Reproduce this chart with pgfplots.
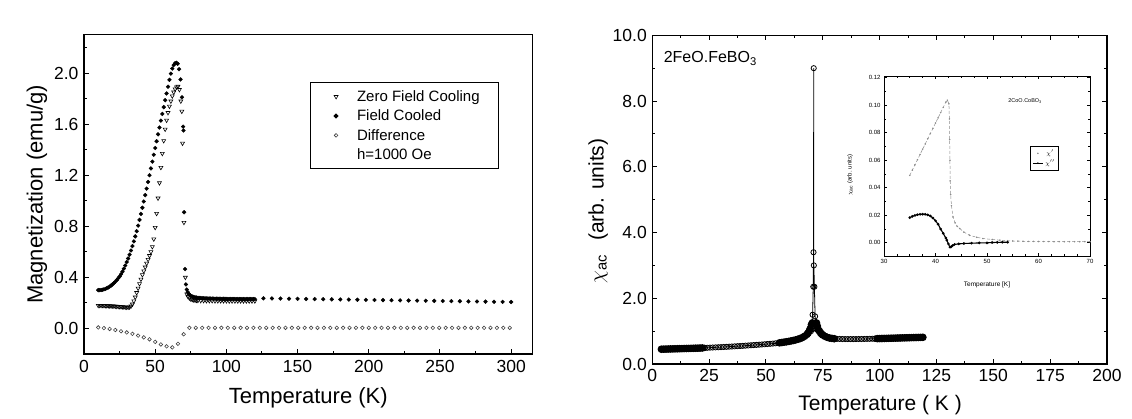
\documentclass[border=0pt]{standalone}
\usepackage{fontspec}
\setmainfont{Liberation Sans}
\usepackage{pgfplots}
\usepackage{pgfplotstable}
\pgfplotsset{compat=1.18}

% ---------- 2FeO.FeBO3 magnetisation, h = 1000 Oe ----------
\pgfplotstableread{
T M
10 0.180
11 0.180
12 0.180
13 0.180
14 0.179
15 0.178
16 0.178
17 0.177
18 0.177
19 0.176
20 0.176
21 0.175
22 0.174
23 0.173
24 0.172
25 0.171
26 0.170
27 0.169
28 0.168
29 0.167
30 0.166
31 0.166
32 0.168
33 0.175
34 0.190
35 0.215
36 0.245
37 0.280
38 0.315
39 0.350
40 0.385
41 0.420
42 0.450
43 0.480
44 0.510
45 0.540
46 0.570
47 0.600
48 0.640
49 0.700
50 0.790
51 0.900
52 1.020
53 1.140
54 1.260
55 1.370
56 1.470
57 1.560
58 1.630
59 1.690
60 1.740
61 1.780
62 1.820
63 1.850
64 1.875
65 1.890
66 1.895
67 1.870
68 1.780
68.7 1.700
69.2 1.450
70.2 0.830
71.2 0.400
72.2 0.270
73 0.250
74 0.238
75 0.230
76 0.226
77 0.223
78 0.221
79 0.220
80 0.219
82 0.218
84 0.218
86 0.217
88 0.217
90 0.217
92 0.216
94 0.216
96 0.216
98 0.216
100 0.216
102 0.215
104 0.215
106 0.215
108 0.215
110 0.215
112 0.215
114 0.215
116 0.215
118 0.215
120 0.215
}\zfc

\pgfplotstableread{
T M
10 0.300
11 0.300
12 0.301
13 0.303
14 0.306
15 0.310
16 0.315
17 0.321
18 0.328
19 0.336
20 0.345
21 0.355
22 0.366
23 0.378
24 0.392
25 0.407
26 0.425
27 0.445
28 0.468
29 0.493
30 0.520
31 0.548
32 0.578
33 0.610
34 0.645
35 0.682
36 0.721
37 0.762
38 0.805
39 0.850
40 0.897
41 0.945
42 0.994
43 1.044
44 1.095
45 1.147
46 1.200
47 1.253
48 1.306
49 1.360
50 1.413
51 1.466
52 1.520
53 1.573
54 1.627
55 1.680
56 1.733
57 1.787
58 1.840
59 1.893
60 1.947
61 1.995
62 2.035
63 2.062
64 2.077
65 2.080
65.8 2.072
66.8 2.030
67.8 1.950
68.8 1.810
69.6 1.580
69.9 1.550
70.3 0.910
71.0 0.465
71.6 0.345
72.2 0.305
72.8 0.285
73.5 0.272
74.2 0.263
75 0.256
76 0.251
77 0.247
78 0.244
79 0.242
80 0.240
81 0.239
82 0.238
83 0.237
84 0.236
85 0.236
86 0.235
87 0.235
88 0.234
89 0.234
90 0.234
91 0.233
92 0.233
93 0.233
94 0.233
95 0.232
96 0.232
97 0.232
98 0.232
99 0.232
100 0.231
101 0.231
102 0.231
103 0.231
104 0.231
105 0.231
106 0.231
107 0.230
108 0.230
109 0.230
110 0.230
111 0.230
112 0.230
113 0.230
114 0.230
115 0.230
116 0.230
117 0.230
118 0.230
119 0.230
120 0.230
126 0.236
132 0.235
138 0.234
144 0.233
150 0.232
156 0.231
162 0.230
168 0.229
174 0.228
180 0.227
186 0.226
192 0.225
198 0.224
204 0.223
210 0.222
216 0.221
222 0.220
228 0.219
234 0.218
240 0.217
246 0.216
252 0.215
258 0.214
264 0.213
270 0.212
276 0.211
282 0.210
288 0.209
294 0.208
300 0.207
}\fc

\pgfplotstableread{
T M
10 0.008
14 0.003
18 -0.004
22 -0.012
26 -0.022
30 -0.031
34 -0.042
38 -0.056
42 -0.070
46 -0.085
50 -0.105
54 -0.125
58 -0.140
62 -0.148
66 -0.120
70 -0.045
74 0.005
78.5 0.005
83 0.005
87.5 0.005
92 0.005
96.5 0.005
101 0.005
105.5 0.005
110 0.005
114.5 0.005
119 0.005
123.5 0.005
128 0.005
132.5 0.005
137 0.005
141.5 0.005
146 0.005
150.5 0.005
155 0.005
159.5 0.005
164 0.005
168.5 0.005
173 0.005
177.5 0.005
182 0.005
186.5 0.005
191 0.005
195.5 0.005
200 0.005
204.5 0.005
209 0.005
213.5 0.005
218 0.005
222.5 0.005
227 0.005
231.5 0.005
236 0.005
240.5 0.005
245 0.005
249.5 0.005
254 0.005
258.5 0.005
263 0.005
267.5 0.005
272 0.005
276.5 0.005
281 0.005
285.5 0.005
290 0.005
294.5 0.005
299 0.005
}\diff

% ---------- ac susceptibility of 2FeO.FeBO3 ----------
\pgfplotstableread{
T X
4 0.450
5 0.452
6 0.454
7 0.456
8 0.458
9 0.460
10 0.462
11 0.464
12 0.466
13 0.468
14 0.470
15 0.472
16 0.474
17 0.476
18 0.478
19 0.480
20 0.482
21 0.485
22 0.488
}\acA

\pgfplotstableread{
T X
23 0.490
24.2 0.494
25.4 0.498
26.6 0.502
27.8 0.506
29 0.510
30.2 0.514
31.4 0.518
32.6 0.522
33.8 0.527
35 0.532
36.2 0.537
37.4 0.542
38.6 0.547
39.8 0.552
41 0.558
42.2 0.564
43.4 0.570
44.6 0.576
45.8 0.582
47 0.588
48.2 0.594
49.4 0.601
50.6 0.608
51.8 0.615
53 0.622
54.2 0.630
55.4 0.638
}\acB

\pgfplotstableread{
T X
56 0.645
57 0.655
58 0.665
59 0.676
60 0.688
61 0.701
62 0.716
63 0.733
64 0.752
65 0.775
66 0.805
67 0.845
68 0.900
68.5 0.940
69 1.000
69.5 1.080
70 1.200
70.4 1.250
72.2 1.250
72.6 1.150
73 1.050
73.5 1.000
74 0.950
74.5 0.910
75 0.880
76 0.840
77 0.810
78 0.790
79 0.780
80 0.770
}\acC

\pgfplotstableread{
T X
69.8 1.00
70.1 1.20
70.5 1.50
70.8 2.35
70.9 3.40
71.0 9.00
71.05 3.00
71.3 2.35
71.6 1.45
71.9 1.20
72.3 1.05
}\acPeak

\pgfplotstableread{
T X
81.2 0.765
82.4 0.762
83.6 0.760
84.8 0.759
86 0.758
87.2 0.758
88.4 0.758
89.6 0.759
90.8 0.760
92 0.761
93.2 0.762
94.4 0.764
95.6 0.766
96.8 0.768
98 0.770
}\acD

\pgfplotstableread{
T X
99 0.772
100 0.774
101 0.776
102 0.778
103 0.780
104 0.782
105 0.784
106 0.786
107 0.788
108 0.790
109 0.792
110 0.794
111 0.796
112 0.798
113 0.800
114 0.802
115 0.804
116 0.806
117 0.808
118 0.810
119 0.812
}\acE

% ---------- inset: 2CoO.CoBO3 ----------
\pgfplotstableread{
T X
35 0.0490
35.5 0.0528
36 0.0566
36.5 0.0604
37 0.0642
37.5 0.0680
38 0.0718
38.5 0.0756
39 0.0794
39.5 0.0832
40 0.0870
40.5 0.0908
41 0.0946
41.5 0.0984
42 0.1022
42.3 0.1036
42.6 0.1010
42.7 0.0900
42.75 0.0750
42.8 0.0600
42.85 0.0450
42.95 0.0350
43.1 0.0270
43.4 0.0188
43.8 0.0145
44.2 0.0120
44.7 0.0104
45.5 0.0078
46.6 0.0055
48 0.0040
49.2 0.0031
51 0.0024
52.5 0.0019
54 0.0015
55 0.0013
56 0.0012
57 0.0011
58 0.0010
59 0.0010
60 0.0009
61 0.0009
62 0.0009
63 0.0008
64 0.0008
65 0.0008
66 0.0008
67 0.0008
68 0.0008
69 0.0008
70 0.0008
}\chire

\pgfplotstableread{
T X
35 0.0183
35.5 0.0192
36 0.0199
36.5 0.0204
37 0.0207
37.5 0.0208
38 0.0207
38.5 0.0203
39 0.0195
39.5 0.0180
40 0.0160
40.5 0.0135
41 0.0100
41.5 0.0068
42 0.0035
42.2 0.0019
42.5 -0.0008
42.8 -0.0032
43.0 -0.0030
43.3 -0.0020
43.7 -0.0012
44.5 -0.0008
45.5 -0.0005
47 -0.0003
48.5 -0.0001
50 0.0000
51 0.0002
52 0.0003
53 0.0004
54 0.0004
}\chiim

\pgfplotsset{
  panel/.style={
    scale only axis,
    tick align=inside,
    axis line style={line width=1.3pt},
    major tick length=5pt,
    minor tick length=3pt,
    tick style={line width=1pt, black},
    /pgf/number format/assume math mode=true,
    tick label style={font=\fontsize{17.5}{20}\selectfont},
    label style={font=\fontsize{22}{26}\selectfont},
    clip=false,
  },
  onedec/.style={
    /pgf/number format/fixed,
    /pgf/number format/fixed zerofill,
    /pgf/number format/precision=#1,
  },
}

\begin{document}
\begin{tikzpicture}[x=1pt,y=1pt]
\path (0,0) rectangle (1132,417);

% ---- left panel: dc magnetisation ----
\begin{axis}[panel,
  at={(84pt,63pt)}, anchor=south west,
  width=448.5pt, height=319.3pt,
  xmin=0, xmax=315, ymin=-0.2, ymax=2.3,
  tick pos=left,
  xtick={0,50,...,300},
  minor xtick={25,75,...,275},
  ytick={0,0.4,0.8,1.2,1.6,2.0},
  minor ytick={-0.2,0.2,0.6,1.0,1.4,1.8,2.2},
  yticklabel style={onedec=1, xshift=-2pt},
  xticklabel style={yshift=-3pt},
  xlabel={Temperature (K)},
  ylabel={Magnetization (emu/g)},
  x label style={at={(axis description cs:0.5,-0.138)}, anchor=center},
  y label style={at={(axis description cs:-0.105,0.5)}, anchor=center},
  legend style={at={(axis description cs:0.504,0.852)}, anchor=north west,
    font=\fontsize{15}{17}\selectfont, draw=black, line width=1pt,
    inner xsep=17pt, inner ysep=6pt, row sep=3pt, cells={anchor=west},
    /tikz/every odd column/.append style={column sep=17pt}},
  legend cell align=left,
]
\addplot[only marks, mark=triangle, mark size=2.3pt,
  mark options={rotate=180, fill=white, draw=black, line width=0.6pt}]
  table[x=T, y=M] {\zfc};
\addlegendentry{Zero Field Cooling}
\addplot[only marks, mark=*, mark size=1.9pt, black] table[x=T, y=M] {\fc};
\addlegendentry{Field Cooled}
\addplot[only marks, mark=o, mark size=1.8pt,
  mark options={draw=black!75, line width=0.6pt}] table[x=T, y=M] {\diff};
\addlegendentry{Difference}
\addlegendimage{empty legend}
\addlegendentry{h=1000 Oe}
\end{axis}

% ---- right panel: ac susceptibility ----
\begin{axis}[panel,
  at={(652.3pt,53pt)}, anchor=south west,
  width=454.7pt, height=328.7pt,
  xmin=0, xmax=200, ymin=0, ymax=10,
  xtick={0,25,...,200},
  minor xtick={12.5,37.5,...,187.5},
  ytick={0,2,...,10},
  minor ytick={1,3,...,9},
  yticklabel style={onedec=1, xshift=-2pt},
  xticklabel style={yshift=-2pt},
  xlabel={Temperature ( K )},
  ylabel={$\chi$\textsubscript{ac}\hspace{14pt}(arb. units)},
  x label style={at={(axis description cs:0.501,-0.125)}, anchor=center,
    font=\fontsize{21}{24}\selectfont},
  y label style={at={(axis description cs:-0.119,0.465)}, anchor=center,
    font=\fontsize{21}{24}\selectfont},
]
\addplot[black, line width=1pt, mark=*, mark size=3.3pt] table[x=T, y=X] {\acA};
\addplot[black, line width=0.8pt, mark=o, mark size=2.6pt,
  mark options={fill=white, line width=0.8pt}] table[x=T, y=X] {\acB};
\addplot[black, line width=1pt, mark=*, mark size=3.3pt] table[x=T, y=X] {\acC};
\addplot[black, line width=0.8pt, mark=o, mark size=2.6pt,
  mark options={fill=white, line width=0.8pt}] table[x=T, y=X] {\acPeak};
\addplot[black, line width=0.8pt, mark=o, mark size=2.6pt,
  mark options={fill=white, line width=0.8pt}] table[x=T, y=X] {\acD};
\addplot[black, line width=1pt, mark=*, mark size=3.3pt] table[x=T, y=X] {\acE};
\addplot[only marks, mark=o, mark size=2.8pt,
  mark options={fill=white, line width=0.8pt}] coordinates {(23,0.490) (98,0.770) (119,0.812)};
\node[anchor=west, font=\fontsize{16}{18}\selectfont] at (axis cs:3.5,9.3)
  {2FeO.FeBO\textsubscript{3}};
\end{axis}

% ---- inset: 2CoO.CoBO3 ----
\begin{axis}[
  scale only axis,
  at={(884pt,161pt)}, anchor=south west,
  width=206pt, height=180pt,
  xmin=30, xmax=70, ymin=-0.0096, ymax=0.1212,
  tick align=inside,
  axis line style={line width=0.9pt},
  major tick length=3pt, minor tick length=1.8pt,
  tick style={line width=0.7pt, black},
  xtick={30,40,...,70}, minor x tick num=3,
  ytick={0,0.02,...,0.12}, minor y tick num=1,
  /pgf/number format/assume math mode=true,
  tick label style={font=\fontsize{6}{7}\selectfont},
  yticklabel style={onedec=2},
  scaled y ticks=false,
  xlabel={Temperature [K]},
  ylabel={$\chi$\textsubscript{ac} (arb. units)},
  x label style={at={(axis description cs:0.5,-0.16)}, anchor=center,
    font=\fontsize{6.5}{8}\selectfont},
  y label style={at={(axis description cs:-0.165,0.45)}, anchor=center,
    font=\fontsize{6}{7}\selectfont},
  legend style={at={(axis description cs:0.709,0.611)}, anchor=north west,
    font=\fontsize{6}{7}\selectfont, draw=black, line width=0.8pt,
    inner xsep=2pt, inner ysep=1.5pt, row sep=-1pt},
  legend image post style={scale=0.6},
]
\addplot[black!45, line width=0.5pt, densely dashed, mark=*, mark size=0.5pt,
  mark options={solid}, forget plot] table[x=T, y=X] {\chire};
\addplot[black, line width=1.1pt, mark=*, mark size=0.7pt, forget plot]
  table[x=T, y=X] {\chiim};
\addlegendimage{only marks, mark=*, mark size=0.5pt, black!45}
\addlegendentry{$\chi'$}
\addlegendimage{black, line width=0.6pt, mark=*, mark size=0.7pt}
\addlegendentry{$\chi''$}
\node[font=\fontsize{5.5}{6}\selectfont] at (axis cs:57.4,0.103) {2CoO.CoBO\textsubscript{3}};
\end{axis}
\end{tikzpicture}
\end{document}
